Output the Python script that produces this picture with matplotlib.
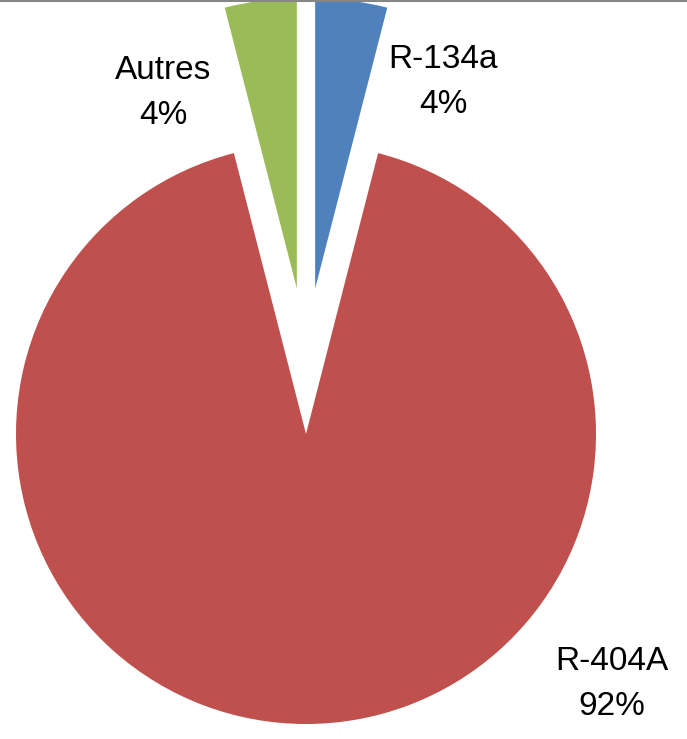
import matplotlib
matplotlib.use("Agg")
import matplotlib.pyplot as plt

labels = ["R-134a", "R-404A", "Autres"]
values = [4, 92, 4]
colors = ["#4F81BD", "#C0504D", "#9BBB59"]
explode_px = [73, 73, 73]
label_pos = [(443, 82), (612, 684), (163, 93)]  # pixel positions (from top)

W, H = 687, 739
fig = plt.figure(figsize=(W / 100, H / 100), dpi=100)
ax = fig.add_axes([0, 0, 1, 1])

R = 290
center = (306, H - 361)
ax.pie(values, colors=colors, explode=explode_px, startangle=90,
       counterclock=False, radius=R, center=center,
       wedgeprops=dict(linewidth=0), frame=False)
ax.set_xlim(0, W)
ax.set_ylim(0, H)
ax.set_aspect("auto")
ax.axis("off")

total = sum(values)
for lab, v, (x, y) in zip(labels, values, label_pos):
    ax.text(x, H - y, f"{lab}\n{round(100 * v / total)}%", ha="center", va="center",
            fontsize=24, family=["Liberation Sans", "DejaVu Sans"],
            linespacing=1.58, color="black")

ax.plot([0, W], [H - 0.5, H - 0.5], color="#868686", lw=1.5, zorder=10,
        solid_capstyle="butt")

fig.savefig("out.png", dpi=100)
